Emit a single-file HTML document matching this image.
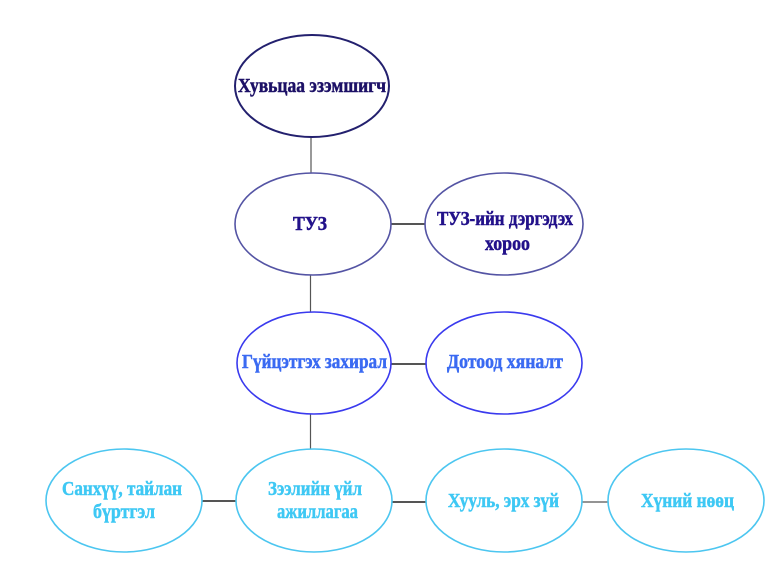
<!DOCTYPE html>
<html>
<head>
<meta charset="utf-8">
<style>
html,body{margin:0;padding:0;background:#fff;width:768px;height:576px;overflow:hidden;}
svg{display:block;}
text{font-family:"Liberation Serif","DejaVu Serif",serif;font-weight:bold;font-size:20px;}
</style>
</head>
<body>
<svg width="768" height="576" viewBox="0 0 768 576" xmlns="http://www.w3.org/2000/svg">
  <!-- connectors -->
  <g stroke="#555" fill="none">
    <line x1="311" y1="137" x2="311" y2="173" stroke-width="1.2"/>
    <line x1="391" y1="224" x2="425" y2="224" stroke-width="2"/>
    <line x1="310.5" y1="275" x2="310.5" y2="312" stroke-width="1.2"/>
    <line x1="391" y1="364" x2="426" y2="364" stroke-width="2"/>
    <line x1="310.5" y1="414" x2="310.5" y2="449" stroke-width="1.2"/>
    <line x1="202" y1="501" x2="236" y2="501" stroke-width="2"/>
    <line x1="392" y1="502" x2="426" y2="502" stroke-width="2"/>
    <line x1="582" y1="502" x2="608" y2="502" stroke-width="1.2"/>
  </g>

  <!-- ellipses -->
  <ellipse cx="312" cy="86" rx="77" ry="51" fill="#fff" stroke="#23206e" stroke-width="2"/>
  <ellipse cx="313" cy="224" rx="78" ry="51" fill="#fff" stroke="#5454a4" stroke-width="1.6"/>
  <ellipse cx="504" cy="224" rx="79" ry="51" fill="#fff" stroke="#5454a4" stroke-width="1.6"/>
  <ellipse cx="314" cy="363" rx="77" ry="51" fill="#fff" stroke="#3a3aee" stroke-width="1.6"/>
  <ellipse cx="504" cy="363" rx="78" ry="51" fill="#fff" stroke="#3a3aee" stroke-width="1.6"/>
  <ellipse cx="124" cy="500.5" rx="78" ry="51.5" fill="#fff" stroke="#4cc6f0" stroke-width="1.6"/>
  <ellipse cx="314" cy="500.5" rx="78" ry="51.5" fill="#fff" stroke="#4cc6f0" stroke-width="1.6"/>
  <ellipse cx="504" cy="500.5" rx="78" ry="51.5" fill="#fff" stroke="#4cc6f0" stroke-width="1.6"/>
  <ellipse cx="686" cy="500.5" rx="78" ry="51.5" fill="#fff" stroke="#4cc6f0" stroke-width="1.6"/>

  <!-- labels -->
  <g stroke-width="0.5">
  <text x="238" y="92" fill="#1c1066" stroke="#1c1066" textLength="148" lengthAdjust="spacingAndGlyphs">Хувьцаа эзэмшигч</text>

  <text x="293" y="230" fill="#22118a" stroke="#22118a" textLength="34" lengthAdjust="spacingAndGlyphs">ТУЗ</text>

  <text x="437" y="225" fill="#22118a" stroke="#22118a" textLength="136" lengthAdjust="spacingAndGlyphs">ТУЗ-ийн дэргэдэх</text>
  <text x="485" y="250" fill="#22118a" stroke="#22118a" textLength="45" lengthAdjust="spacingAndGlyphs">хороо</text>

  <text x="242" y="368" fill="#3a6af2" stroke="#3a6af2" textLength="145" lengthAdjust="spacingAndGlyphs">Гүйцэтгэх захирал</text>
  <text x="447" y="368" fill="#3a6af2" stroke="#3a6af2" textLength="116" lengthAdjust="spacingAndGlyphs">Дотоод хяналт</text>

  <text x="62" y="495" fill="#3ec8f4" stroke="#3ec8f4" textLength="120" lengthAdjust="spacingAndGlyphs">Санхүү, тайлан</text>
  <text x="93" y="518" fill="#3ec8f4" stroke="#3ec8f4" textLength="62" lengthAdjust="spacingAndGlyphs">бүртгэл</text>

  <text x="268" y="495" fill="#3ec8f4" stroke="#3ec8f4" textLength="94" lengthAdjust="spacingAndGlyphs">Зээлийн үйл</text>
  <text x="277" y="518" fill="#3ec8f4" stroke="#3ec8f4" textLength="81" lengthAdjust="spacingAndGlyphs">ажиллагаа</text>

  <text x="448" y="507" fill="#3ec8f4" stroke="#3ec8f4" textLength="111" lengthAdjust="spacingAndGlyphs">Хууль, эрх зүй</text>
  <text x="641" y="507" fill="#3ec8f4" stroke="#3ec8f4" textLength="93" lengthAdjust="spacingAndGlyphs">Хүний нөөц</text>
  </g>
</svg>
</body>
</html>
